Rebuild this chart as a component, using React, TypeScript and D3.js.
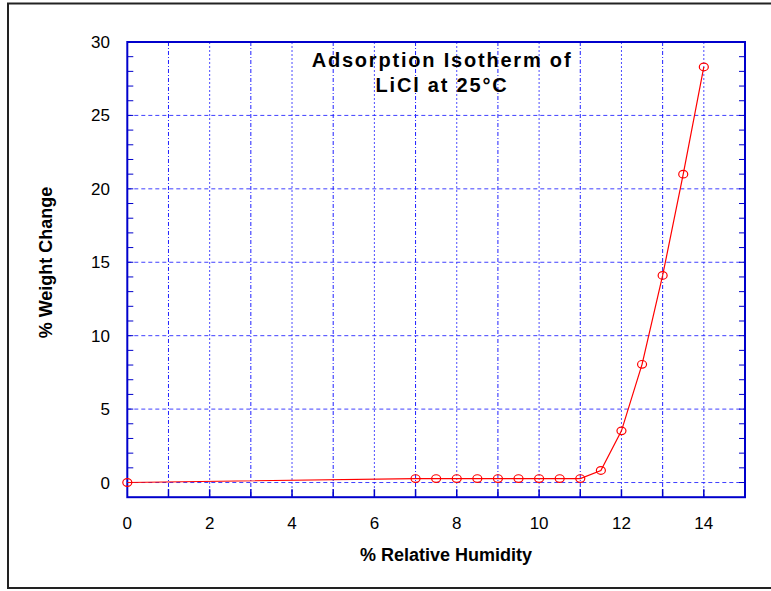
import React from "react";
import * as d3 from "d3";

const humidity = [0, 7, 7.5, 8, 8.5, 9, 9.5, 10, 10.5, 11, 11.5, 12, 12.5, 13, 13.5, 14];
const weightChange = [0, 0.27, 0.27, 0.27, 0.27, 0.27, 0.27, 0.27, 0.27, 0.27, 0.82, 3.52, 8.05, 14.1, 21.0, 28.3];
const xTickLabels = [0, 2, 4, 6, 8, 10, 12, 14];
const yTickLabels = [0, 5, 10, 15, 20, 25, 30];
const titleLines = ["Adsorption Isotherm of", "LiCl at 25°C"];
const xTitle = "% Relative Humidity";
const yTitle = "% Weight Change";

export default function App() {
  const left = 127.3, right = 745, top = 42, bottom = 497.2;
  const x = d3.scaleLinear().domain([0, 15]).range([left, right]);
  const y = d3.scaleLinear().domain([-1, 30]).range([bottom, top]);
  const font = "'Liberation Sans', Arial, sans-serif";
  const axisColor = "#0000cc";
  const gridColor = "#2020ff";

  const xGrid = d3.range(1, 15);
  const yGrid = d3.range(0, 30, 5);
  const yMinor = d3.range(0, 30);
  const xMinor = d3.range(1, 15);

  const line = d3
    .line<number>()
    .x((_, i) => x(humidity[i]))
    .y((d) => y(d));

  return (
    <svg
      width={771}
      height={591}
      style={{ position: "absolute", left: 0, top: 0, background: "#fff" }}
    >
      <rect x={0} y={0} width={771} height={591} fill="#fff" />
      <rect x={8} y={3.5} width={800} height={584.5} fill="none" stroke="#222" strokeWidth={2} />

      {/* grid */}
      {xGrid.map((v) => (
        <line
          key={"gx" + v}
          x1={x(v)}
          x2={x(v)}
          y1={top}
          y2={bottom}
          stroke={gridColor}
          strokeWidth={1}
          strokeDasharray={v % 2 === 1 ? "4,2,1,2" : "2,2"}
          opacity={v % 2 === 1 ? 1 : 0.8}
        />
      ))}
      {yGrid.map((v) => (
        <line
          key={"gy" + v}
          x1={left}
          x2={right}
          y1={y(v)}
          y2={y(v)}
          stroke={gridColor}
          strokeWidth={1}
          strokeDasharray="4,3"
          opacity={0.85}
        />
      ))}

      {/* minor ticks */}
      {yMinor.map((v) => (
        <g key={"ty" + v}>
          <line x1={left} x2={left + 6} y1={y(v)} y2={y(v)} stroke={axisColor} strokeWidth={1} />
          <line x1={right - 6} x2={right} y1={y(v)} y2={y(v)} stroke={axisColor} strokeWidth={1} />
        </g>
      ))}
      {xMinor.map((v) => (
        <line key={"tx" + v} x1={x(v)} x2={x(v)} y1={bottom} y2={bottom - 8} stroke={axisColor} strokeWidth={1.5} />
      ))}

      {/* frame */}
      <rect x={left} y={top} width={right - left} height={bottom - top} fill="none" stroke={axisColor} strokeWidth={2} />

      {/* data */}
      <path d={line(weightChange) || ""} fill="none" stroke="#ff0000" strokeWidth={1.2} />
      {weightChange.map((v, i) => (
        <ellipse
          key={"p" + i}
          cx={x(humidity[i])}
          cy={y(v)}
          rx={4.5}
          ry={3.8}
          fill="none"
          stroke="#ff0000"
          strokeWidth={1.2}
        />
      ))}

      {/* tick labels */}
      {xTickLabels.map((v) => (
        <text key={"lx" + v} x={x(v)} y={529} textAnchor="middle" fontFamily={font} fontSize={17} fill="#000">
          {v}
        </text>
      ))}
      {yTickLabels.map((v) => (
        <text key={"ly" + v} x={110} y={y(v) + 6} textAnchor="end" fontFamily={font} fontSize={17} fill="#000">
          {v}
        </text>
      ))}

      {/* titles */}
      {titleLines.map((t, i) => (
        <text
          key={"t" + i}
          x={442}
          y={67 + i * 25}
          textAnchor="middle"
          fontFamily={font}
          fontSize={20}
          fontWeight="bold"
          letterSpacing={1.8}
          fill="#000"
        >
          {t}
        </text>
      ))}
      <text x={446} y={561} textAnchor="middle" fontFamily={font} fontSize={18} fontWeight="bold" fill="#000">
        {xTitle}
      </text>
      <text
        transform={`translate(51.5, 262.5) rotate(-90)`}
        textAnchor="middle"
        fontFamily={font}
        fontSize={18}
        fontWeight="bold"
        fill="#000"
      >
        {yTitle}
      </text>
    </svg>
  );
}
